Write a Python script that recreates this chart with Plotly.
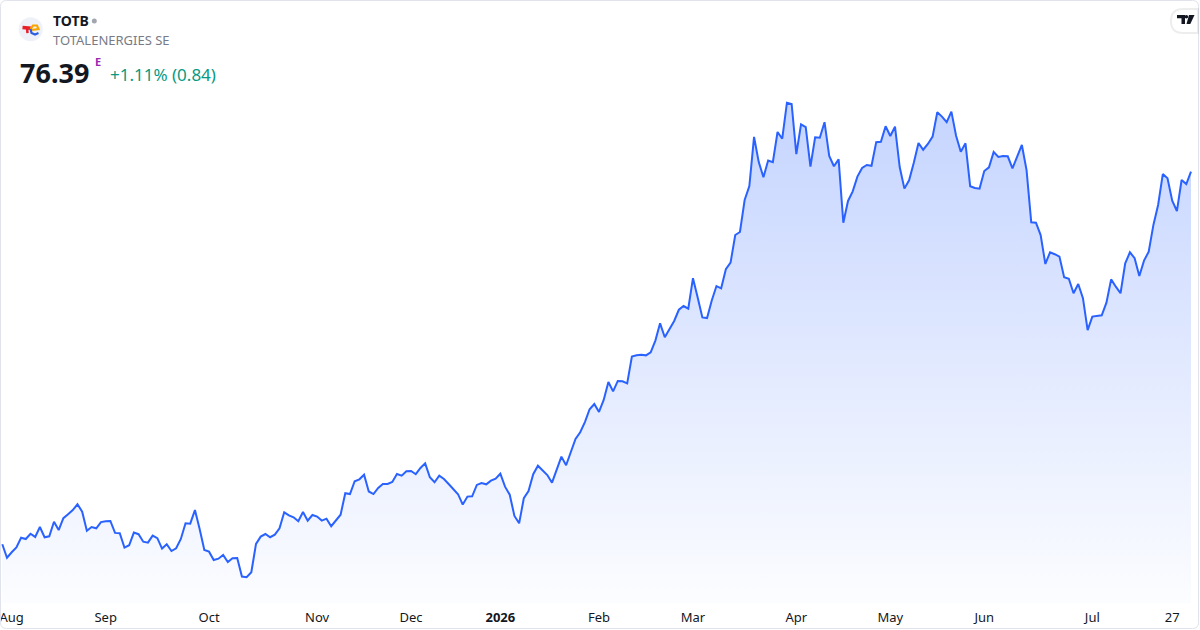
import plotly.graph_objects as go

# ---------------- data ----------------
symbol = "TOTB"
company = "TOTALENERGIES SE"
last_price = "76.39"
change_text = "+1.11% (0.84)"

tick_index = [2, 22, 44, 67, 87, 106, 127, 147, 169, 189, 209, 232, 249]
tick_labels = ["Aug", "Sep", "Oct", "Nov", "Dec", "<b>2026</b>", "Feb", "Mar",
               "Apr", "May", "Jun", "Jul", "27"]

prices_2025 = [
    53.10, 52.26, 52.60, 52.91, 53.51, 53.43, 53.76, 53.56, 54.18, 53.54,
    53.60, 54.51, 53.99, 54.73, 54.98, 55.24, 55.60, 55.14, 53.95, 54.18,
    54.10, 54.49, 54.54, 54.56, 53.81, 53.79, 52.89, 53.04, 53.83, 53.73,
    53.26, 53.20, 53.64, 53.48, 52.83, 53.10, 52.68, 52.85, 53.43, 54.41,
    54.39, 55.24, 54.06, 52.74, 52.64, 52.12, 52.20, 52.43, 51.99, 52.23,
    52.24, 51.08, 51.04, 51.35, 53.12, 53.58, 53.74, 53.54, 53.70, 54.10,
    55.10, 54.91, 54.79, 54.54, 55.12, 54.58, 54.93, 54.83, 54.58, 54.70,
    54.23, 54.60, 54.95, 56.29, 56.24, 57.04, 57.16, 57.45, 56.40, 56.24,
    56.62, 56.87, 56.87, 56.99, 57.49, 57.39, 57.66, 57.68, 57.48, 57.87,
    58.16, 57.29, 56.98, 57.39, 57.18, 56.87, 56.54, 56.23, 55.58, 56.08,
    56.10, 56.81, 56.93, 56.85, 57.08, 57.20,
]
prices_2026 = [
    57.51, 56.70, 56.20, 54.87, 54.41, 55.98, 56.43, 57.48, 58.01, 57.73,
    57.43, 56.95, 57.83, 58.58, 58.04, 58.83, 59.68, 60.10, 60.74, 61.54,
    61.87, 61.37, 62.12, 63.24, 62.66, 63.31, 63.29, 63.16, 64.83, 64.91,
    64.95, 64.91, 65.10, 65.83, 66.91, 66.04, 66.56, 67.06, 67.76, 67.99,
    67.83, 69.73, 68.53, 67.28, 67.24, 68.34, 69.24, 69.10, 70.29, 70.70,
    72.43, 72.62, 74.62, 75.49, 78.56, 76.99, 76.04, 77.09, 76.98, 78.87,
    78.45, 80.70, 80.62, 77.49, 79.35, 79.18, 76.70, 78.54, 78.51, 79.48,
    77.37, 76.73, 77.16, 73.20, 74.56, 75.16, 76.08, 76.62, 76.81, 76.76,
    78.23, 78.26, 79.23, 78.62, 79.20, 76.68, 75.33, 75.85, 76.95, 78.18,
    77.76, 78.12, 78.58, 80.10, 79.83, 79.49, 80.14, 78.64, 77.64, 78.16,
    75.48, 75.37, 75.33, 76.43, 76.66, 77.62, 77.31, 77.37, 77.35, 76.60,
    77.33, 78.06, 76.49, 73.23, 73.20, 72.43, 70.62, 71.35, 71.23, 71.08,
    69.79, 69.70, 68.79, 69.37, 68.48, 66.49, 67.33, 67.37, 67.41, 68.20,
    69.66, 69.20, 68.79, 70.66, 71.35, 70.98, 69.87, 70.83, 71.39, 73.06,
    74.31, 76.24, 75.98, 74.58, 73.93, 75.87, 75.62, 76.39,
]

prices = prices_2025 + prices_2026
idx = list(range(len(prices)))

# ---------------- layout geometry ----------------
W, H = 1200, 630
PLOT_B = 27          # bottom margin (time axis)
PLOT_H = H - PLOT_B
FIRST_PX, LAST_PX = 2.3, 1191.0
step = (LAST_PX - FIRST_PX) / (len(prices) - 1)
x_range = [-FIRST_PX / step, (len(prices) - 1) + (W - LAST_PX) / step]
y_range = [49.43, 87.12]


def px(x):
    return x / W


def py(y):
    return (PLOT_H - y) / PLOT_H


def path(points, close=False):
    s = "M " + " L ".join(f"{px(a):.5f},{py(b):.5f}" for a, b in points)
    return s + (" Z" if close else "")


fig = go.Figure()
fig.add_trace(go.Scatter(
    x=idx, y=prices, mode="lines",
    line=dict(color="#2962ff", width=2),
    fill="tozeroy",
    fillgradient=dict(type="vertical", start=y_range[0], stop=max(prices),
                      colorscale=[[0, "rgba(41,98,255,0.015)"],
                                  [1, "rgba(41,98,255,0.27)"]]),
    hoverinfo="skip", showlegend=False,
))

FONT = "Noto Sans"
shapes = []
# outer border with rounded corners
r = 6
x0, y0, x1, y1 = 0.5, 0.5, 1198.5, 628.5
shapes.append(dict(
    type="path", xref="paper", yref="paper",
    path=(f"M {px(x0+r)},{py(y0)} L {px(x1-r)},{py(y0)} Q {px(x1)},{py(y0)} {px(x1)},{py(y0+r)} "
          f"L {px(x1)},{py(y1-r)} Q {px(x1)},{py(y1)} {px(x1-r)},{py(y1)} "
          f"L {px(x0+r)},{py(y1)} Q {px(x0)},{py(y1)} {px(x0)},{py(y1-r)} "
          f"L {px(x0)},{py(y0+r)} Q {px(x0)},{py(y0)} {px(x0+r)},{py(y0)} Z"),
    line=dict(color="#e0e3eb", width=1), fillcolor="rgba(0,0,0,0)", layer="above"))

# company logo
shapes.append(dict(type="circle", xref="paper", yref="paper",
                   x0=px(18.7), x1=px(42.7), y0=py(17.3), y1=py(41.3),
                   fillcolor="#eef1f8", line=dict(width=0), layer="above"))
shapes.append(dict(type="path", xref="paper", yref="paper",
                   path=path([(22.5, 27.5), (31, 28.3)]),
                   line=dict(color="#e8202a", width=3.5), layer="above"))
shapes.append(dict(type="path", xref="paper", yref="paper",
                   path=path([(27, 28), (27.5, 33)]),
                   line=dict(color="#e8202a", width=2.5), layer="above"))
shapes.append(dict(type="path", xref="paper", yref="paper",
                   path=path([(31, 30), (38.5, 29), (37, 25.5), (33, 25.5), (30.5, 29)]),
                   line=dict(color="#f7a600", width=2.2), layer="above"))
shapes.append(dict(type="path", xref="paper", yref="paper",
                   path=path([(30.5, 29), (31.5, 33), (35, 34.5), (38.5, 33)]),
                   line=dict(color="#2d5fe0", width=2.2), layer="above"))

# gray status dot
shapes.append(dict(type="circle", xref="paper", yref="paper",
                   x0=px(91.8), x1=px(96.8), y0=py(18.5), y1=py(23.5),
                   fillcolor="#a3a6af", line=dict(width=0), layer="above"))

# TradingView badge
shapes.append(dict(type="path", xref="paper", yref="paper",
                   path=(f"M {px(1198)},{py(9)} L {px(1183)},{py(9)} "
                         f"Q {px(1171)},{py(9)} {px(1171)},{py(21)} "
                         f"Q {px(1171)},{py(33)} {px(1183)},{py(33)} L {px(1198)},{py(33)} Z"),
                   fillcolor="white", line=dict(color="rgba(0,0,0,0.07)", width=2),
                   layer="above"))
shapes.append(dict(type="path", xref="paper", yref="paper",
                   path=path([(1177, 15), (1185, 15), (1185, 24), (1181.5, 24),
                              (1181.5, 18.3), (1177, 18.3)], close=True),
                   fillcolor="#131722", line=dict(width=0), layer="above"))
shapes.append(dict(type="circle", xref="paper", yref="paper",
                   x0=px(1184.6), x1=px(1188.2), y0=py(15), y1=py(18.6),
                   fillcolor="#131722", line=dict(width=0), layer="above"))
shapes.append(dict(type="path", xref="paper", yref="paper",
                   path=path([(1189, 15), (1194.5, 15), (1190.3, 24), (1186.5, 24)], close=True),
                   fillcolor="#131722", line=dict(width=0), layer="above"))

annotations = [
    dict(text=f"<b>{symbol}</b>", x=px(51), y=py(21), xanchor="left", yanchor="middle",
         font=dict(family=FONT, size=14, color="#131722")),
    dict(text=company, x=px(50.5), y=py(40.5), xanchor="left", yanchor="middle",
         font=dict(family=FONT, size=13, color="#787b86")),
    dict(text=f"<b>{last_price}</b>", x=px(17.5), y=py(72), xanchor="left", yanchor="middle",
         font=dict(family=FONT, size=27, color="#131722")),
    dict(text="<b>E</b>", x=px(92.5), y=py(61.5), xanchor="left", yanchor="middle",
         font=dict(family=FONT, size=11, color="#9c27b0")),
    dict(text=change_text, x=px(107.5), y=py(74), xanchor="left", yanchor="middle",
         font=dict(family=FONT, size=17, color="#089981")),
]
for a in annotations:
    a.update(xref="paper", yref="paper", showarrow=False)

fig.update_layout(
    width=W, height=H,
    margin=dict(l=0, r=0, t=0, b=PLOT_B, pad=0),
    paper_bgcolor="white", plot_bgcolor="white",
    xaxis=dict(range=x_range, tickmode="array", tickvals=tick_index, ticktext=tick_labels,
               showgrid=False, zeroline=False, showline=False, ticks="",
               ticklabeloverflow="allow", ticklabelstandoff=5,
               tickfont=dict(family=FONT, size=13, color="#131722"),
               fixedrange=True),
    yaxis=dict(range=y_range, visible=False, showgrid=False, zeroline=False, fixedrange=True),
    shapes=shapes, annotations=annotations,
    hovermode=False,
)

fig.write_html("out.html", config={"displayModeBar": False},
               post_script=["document.body.style.margin='0';"])
